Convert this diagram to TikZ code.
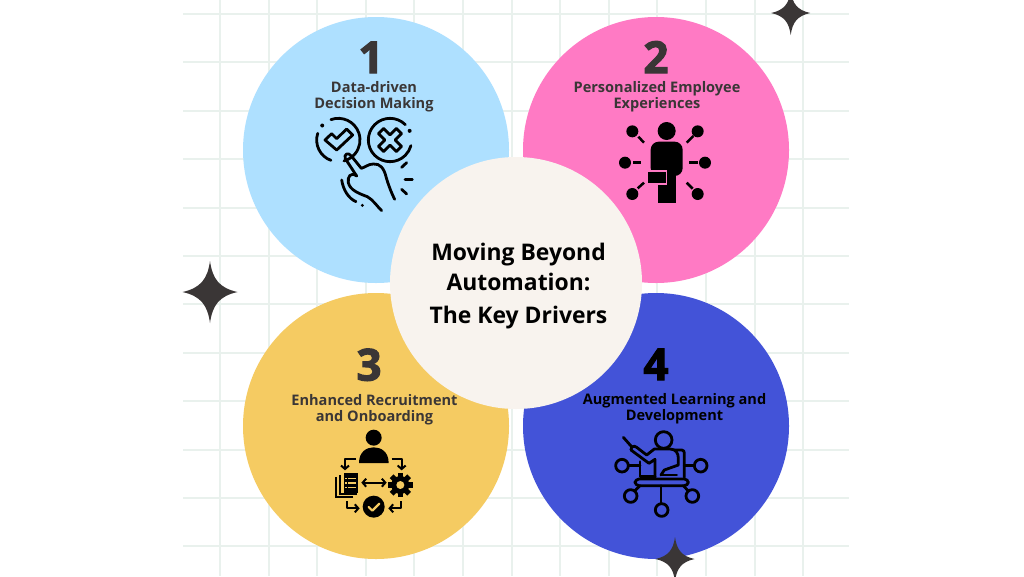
\documentclass[tikz,border=0pt]{standalone}
\usepackage{fontspec}
\usetikzlibrary{arrows.meta}
\setmainfont{Open Sans}
\newfontfamily\numfont[BoldFeatures={FakeBold=2.6}]{Open Sans}
\definecolor{gridc}{HTML}{E9F1ED}
\definecolor{skyc}{HTML}{AEE0FF}
\definecolor{pinkc}{HTML}{FF7AC4}
\definecolor{yelc}{HTML}{F5CB62}
\definecolor{bluec}{HTML}{4353D8}
\definecolor{creamc}{HTML}{F8F3EE}
\definecolor{darkc}{HTML}{3A3636}
\tikzset{
  gridline/.style={gridc,line width=2pt},
  disc/.style={circle,minimum size=266pt,inner sep=0pt,fill=#1},
  hub/.style={circle,minimum size=252pt,inner sep=0pt,fill=creamc},
  numtext/.style={anchor=base,inner sep=0pt,text=#1,font=\numfont\bfseries\fontsize{44pt}{44pt}\selectfont},
  labeltext/.style={anchor=base,inner sep=0pt,text=#1,font=\bfseries\fontsize{14.55pt}{16pt}\selectfont},
  hubtext/.style={anchor=base,inner sep=0pt,text=black,font=\bfseries\fontsize{22.9pt}{24pt}\selectfont},
  iconline/.style={black,line width=2.8pt,line cap=round,line join=round},
  fourstar/.pic={\fill[darkc] (0,-1) .. controls (.09,-.42) and (.34,-.13) .. (1,0)
     .. controls (.34,.13) and (.09,.42) .. (0,1)
     .. controls (-.09,.42) and (-.34,.13) .. (-1,0)
     .. controls (-.34,-.13) and (-.09,-.42) .. (0,-1) -- cycle;},
}
\begin{document}
\begin{tikzpicture}[x=1pt,y=-1pt]
\path[use as bounding box] (0,0) rectangle (1024,576);
\clip (0,0) rectangle (1024,576);
\fill[white] (0,0) rectangle (1024,576);
% grid
\foreach \i in {0,...,12} \draw[gridline] ({220+48.6*\i},0) -- ({220+48.6*\i},576);
\foreach \i in {0,...,11} \draw[gridline] (183,{14+48.4*\i}) -- (849,{14+48.4*\i});
% stars
\pic[xscale=19.5,yscale=22] at (790.7,13) {fourstar};
\pic[xscale=27.5,yscale=31] at (210,292) {fourstar};
% discs
\node[disc=skyc] (d1) at (376,150) {};
\node[disc=pinkc] (d2) at (656,150) {};
\node[disc=yelc] (d3) at (376,426) {};
\node[disc=bluec] (d4) at (656,426) {};
\pic[xscale=19.5,yscale=22] at (675,559) {fourstar};
\node[hub] (hub) at (516,283) {};
% hub text
\node[hubtext] (h1) at (518.5,260) {Moving Beyond};
\node[hubtext] (h2) at (518.5,290.7) {Automation:};
\node[hubtext] (h3) at (518.5,323) {The Key Drivers};
% numbers
\node[numtext=darkc] (n1) at (371,73) {1};
\node[numtext=darkc] (n2) at (656,73) {2};
\node[numtext=darkc] (n3) at (369,380.5) {3};
\node[numtext=black] (n4) at (656,380) {4};
% labels
\node[labeltext=darkc] (a1) at (374,92) {Data-driven};
\node[labeltext=darkc] (a2) at (374,108) {Decision Making};
\node[labeltext=darkc] (b1) at (657,92) {Personalized Employee};
\node[labeltext=darkc] (b2) at (657,108) {Experiences};
\node[labeltext=darkc] (c1) at (374.5,405.5) {Enhanced Recruitment};
\node[labeltext=darkc] (c2) at (374.5,421.5) {and Onboarding};
\node[labeltext=black] (e1) at (674.5,404) {Augmented Learning and};
\node[labeltext=black] (e2) at (674.5,420) {Development};
% icon 1
\begin{scope}[shift={(290,30)},scale=1/3,iconline]
  \draw (145,330) ++(-110:65) arc[start angle=-110,end angle=75,radius=65];
  \draw (145,330) ++(110:65) arc[start angle=110,end angle=198,radius=65];
  \fill (145,330) ++(222:65) circle[radius=6];
  \draw (300,330) ++(-45:65) arc[start angle=-45,end angle=-345,radius=65];
  \fill (300,330) ++(-25:65) circle[radius=6];
  \draw (105,330) -- (125,311) -- (140,326) -- (170,297) -- (188,315) -- (140,360) -- cycle;
  \begin{scope}[shift={(300,330)},rotate=45]
    \draw (-11,-38) -- (11,-38) -- (11,-11) -- (38,-11) -- (38,11) -- (11,11) -- (11,38) -- (-11,38) -- (-11,11) -- (-38,11) -- (-38,-11) -- (-11,-11) -- cycle;
  \end{scope}
  \draw (200,438) -- (166,386) .. controls (160,372) and (176,366) .. (184,378) -- (214,415)
     .. controls (225,412) and (235,402) .. (250,402) .. controls (270,400) and (282,415) .. (288,440)
     .. controls (295,465) and (305,490) .. (314,508);
  \draw (200,438) .. controls (182,425) and (172,440) .. (175,458) .. controls (180,480) and (205,490) .. (232,500)
     .. controls (250,510) and (262,530) .. (275,542);
  \draw (155,450) .. controls (160,480) and (175,505) .. (198,515);
  \fill (217,526) circle[radius=5];
  \draw (335,412) -- (350,398);
  \draw (345,448) -- (367,448);
  \draw (335,478) -- (350,492);
\end{scope}
% icon 2
\begin{scope}[shift={(570,30)},scale=1/3]
  \fill (290,303) circle[radius=27];
  \fill[rounded corners=8pt] (242,438) -- (242,335) -- (338,335) -- (338,438) -- cycle;
  \fill (264,430) rectangle (317,520);
  \fill[pinkc] (230,420) rectangle (292,465);
  \fill (235,425) rectangle (287,460);
  \foreach \px/\py in {187/304,383/304,165/398,405/398,187/492,383/492} \fill (\px,\py) circle[radius=18];
  \begin{scope}[black,line width=2.5pt]
    \draw (205,320) -- (222,338);
    \draw (350,338) -- (370,318);
    \draw (190,398) -- (213,398);
    \draw (358,398) -- (383,398);
    \draw (203,475) -- (222,458);
    \draw (350,458) -- (368,476);
  \end{scope}
\end{scope}
% icon 3
\begin{scope}[shift={(285,340)},scale=1/3]
  \fill (266,293) circle[radius=24];
  \fill (222,369) .. controls (222,335) and (245,322) .. (266,322) .. controls (288,322) and (311,335) .. (311,369) -- cycle;
  \begin{scope}[iconline,line width=2pt,line cap=butt,-{Straight Barb[length=3.5pt,width=8pt]}]
    \draw (213,357) -- (180,357) -- (180,391);
    \draw (320,357) -- (350,357) -- (350,391);
    \draw (185,483) -- (185,505) -- (224,505);
    \draw (347,483) -- (347,505) -- (310,505);
  \end{scope}
  \draw[iconline,line width=2pt,line cap=butt,{Straight Barb[length=3.5pt,width=8pt]}-{Straight Barb[length=3.5pt,width=8pt]}] (229,428) -- (305,428);
  \draw[black,line width=2pt] (205,470) -- (153,470) -- (153,412);
  \draw[black,line width=2pt] (216,461) -- (166,461) -- (166,405);
  \fill (176,399) rectangle (218,458);
  \foreach \ly in {415,429,443} \draw[yelc,line width=1.4pt] (190,\ly) -- (212,\ly);
  \foreach \ly in {415,429,443} \fill[yelc] (181,{\ly-2}) rectangle (186,{\ly+2});
  \fill (346,435) circle[radius=27];
  \foreach \ang in {0,45,...,315}
    \fill[shift={(346,435)},rotate=\ang] (-8,-37) rectangle (8,-20);
  \fill[yelc] (346,435) circle[radius=12];
  \fill (266,500) circle[radius=33];
  \draw[yelc,line width=2.2pt,line cap=round,line join=round] (251,501) -- (262,512) -- (283,491);
\end{scope}
% icon 4
\begin{scope}[shift={(575,340)},scale=1/3,iconline]
  \draw (266,300) circle[radius=25];
  \draw (145,292) -- (168,318);
  \draw (195,365) -- (195,410) -- (240,410);
  \draw (300,330) -- (320,330) .. controls (326,330) and (328,334) .. (328,340) -- (328,412);
  \draw (168,330) .. controls (168,318) and (178,316) .. (185,322) -- (215,345) -- (238,327) -- (285,327)
    .. controls (303,327) and (310,340) .. (310,355) -- (310,375) -- (268,390) -- (258,405);
  \draw (168,330) -- (222,370) -- (240,358) -- (240,412);
  \draw (258,405) -- (305,405);
  \draw[rounded corners=4pt] (180,417) rectangle (340,437);
  \foreach \px/\py in {141/377,377/377,167/468,352/468,260/510} \draw (\px,\py) circle[radius=19];
  \draw (160,377) -- (195,377);
  \draw (328,377) -- (358,377);
  \draw (258,437) -- (258,491);
  \draw (195,437) -- (179,453);
  \draw (325,437) -- (340,453);
\end{scope}
\end{tikzpicture}
\end{document}
